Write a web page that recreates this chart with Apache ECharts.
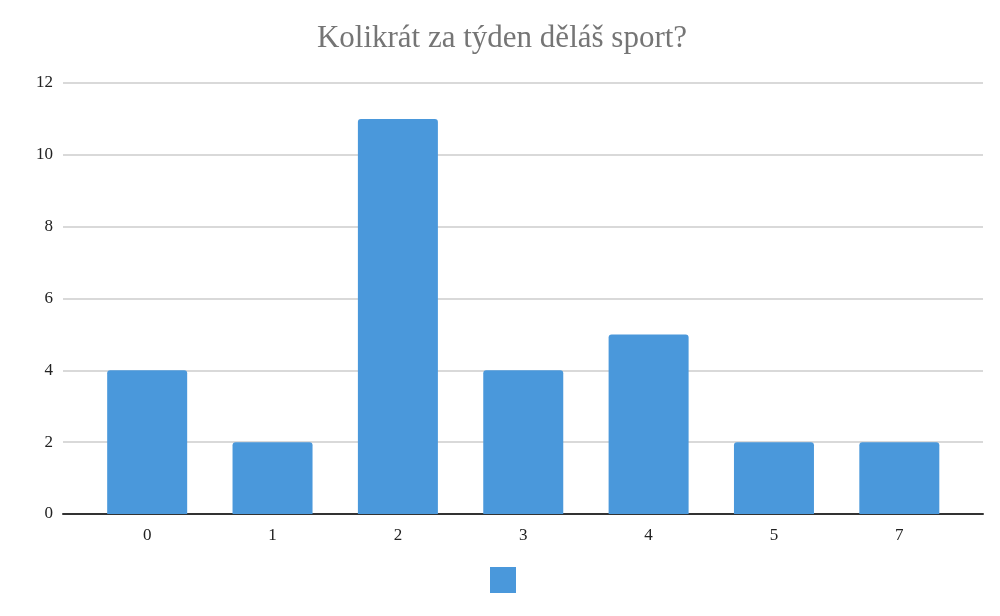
<!DOCTYPE html>
<html><head><meta charset="utf-8">
<script src="https://cdn.jsdelivr.net/npm/echarts@6/dist/echarts.min.js"></script>
<style>html,body{margin:0;padding:0;background:#fff}#c{width:1000px;height:616px}</style>
</head><body><div id="c"></div>
<script>
const titleText = 'Kolikrát za týden děláš sport?';
const categories = ['0','1','2','3','4','5','7'];
const values = [4, 2, 11, 4, 5, 2, 2];
const yTicks = { min: 0, max: 12, interval: 2 };
const seriesName = ' ';

const chart = echarts.init(document.getElementById('c'), null, {renderer:'canvas'});
const font = 'Liberation Serif, Times New Roman, serif';
chart.setOption({
  animation: false,
  backgroundColor: '#fff',
  title: { text: titleText, left: 497, top: 18, textAlign: 'center',
    textStyle: { fontFamily: font, fontSize: 31, fontWeight: 'normal', color: '#757575' } },
  legend: { left: 485, top: 562, itemWidth: 26, itemHeight: 26, itemGap: 0, icon: 'rect',
    data: [seriesName], textStyle: { fontSize: 1, color: '#fff' },
    itemStyle: { borderRadius: 2 } },
  grid: [
    { left: 63, right: 17, top: 83, bottom: 102 },
    { left: 84.5, right: 38, top: 83, bottom: 102 }
  ],
  xAxis: [
    { type: 'category', gridIndex: 0, data: categories, axisTick: {show:false}, axisLabel: {show:false},
      axisLine: { lineStyle: { color: '#333', width: 2 } } },
    { type: 'category', gridIndex: 1, data: categories, axisTick: {show:false}, axisLine: {show:false},
      axisLabel: { fontFamily: font, fontSize: 17, color: '#222', margin: 13 } }
  ],
  yAxis: [
    { type: 'value', gridIndex: 0, min: yTicks.min, max: yTicks.max, interval: yTicks.interval,
      axisLine: {show:false}, axisTick: {show:false},
      axisLabel: { fontFamily: font, fontSize: 17, color: '#222', margin: 10 },
      splitLine: { lineStyle: { color: '#cccccc', width: 1.5 } } },
    { type: 'value', gridIndex: 1, min: yTicks.min, max: yTicks.max, interval: yTicks.interval,
      show: false, splitLine: {show:false} }
  ],
  series: [{
    name: seriesName, type: 'bar', xAxisIndex: 1, yAxisIndex: 1, data: values,
    barWidth: 80, itemStyle: { color: '#4a98db', borderRadius: [3,3,0,0] }, z: 3
  }]
});
</script></body></html>
